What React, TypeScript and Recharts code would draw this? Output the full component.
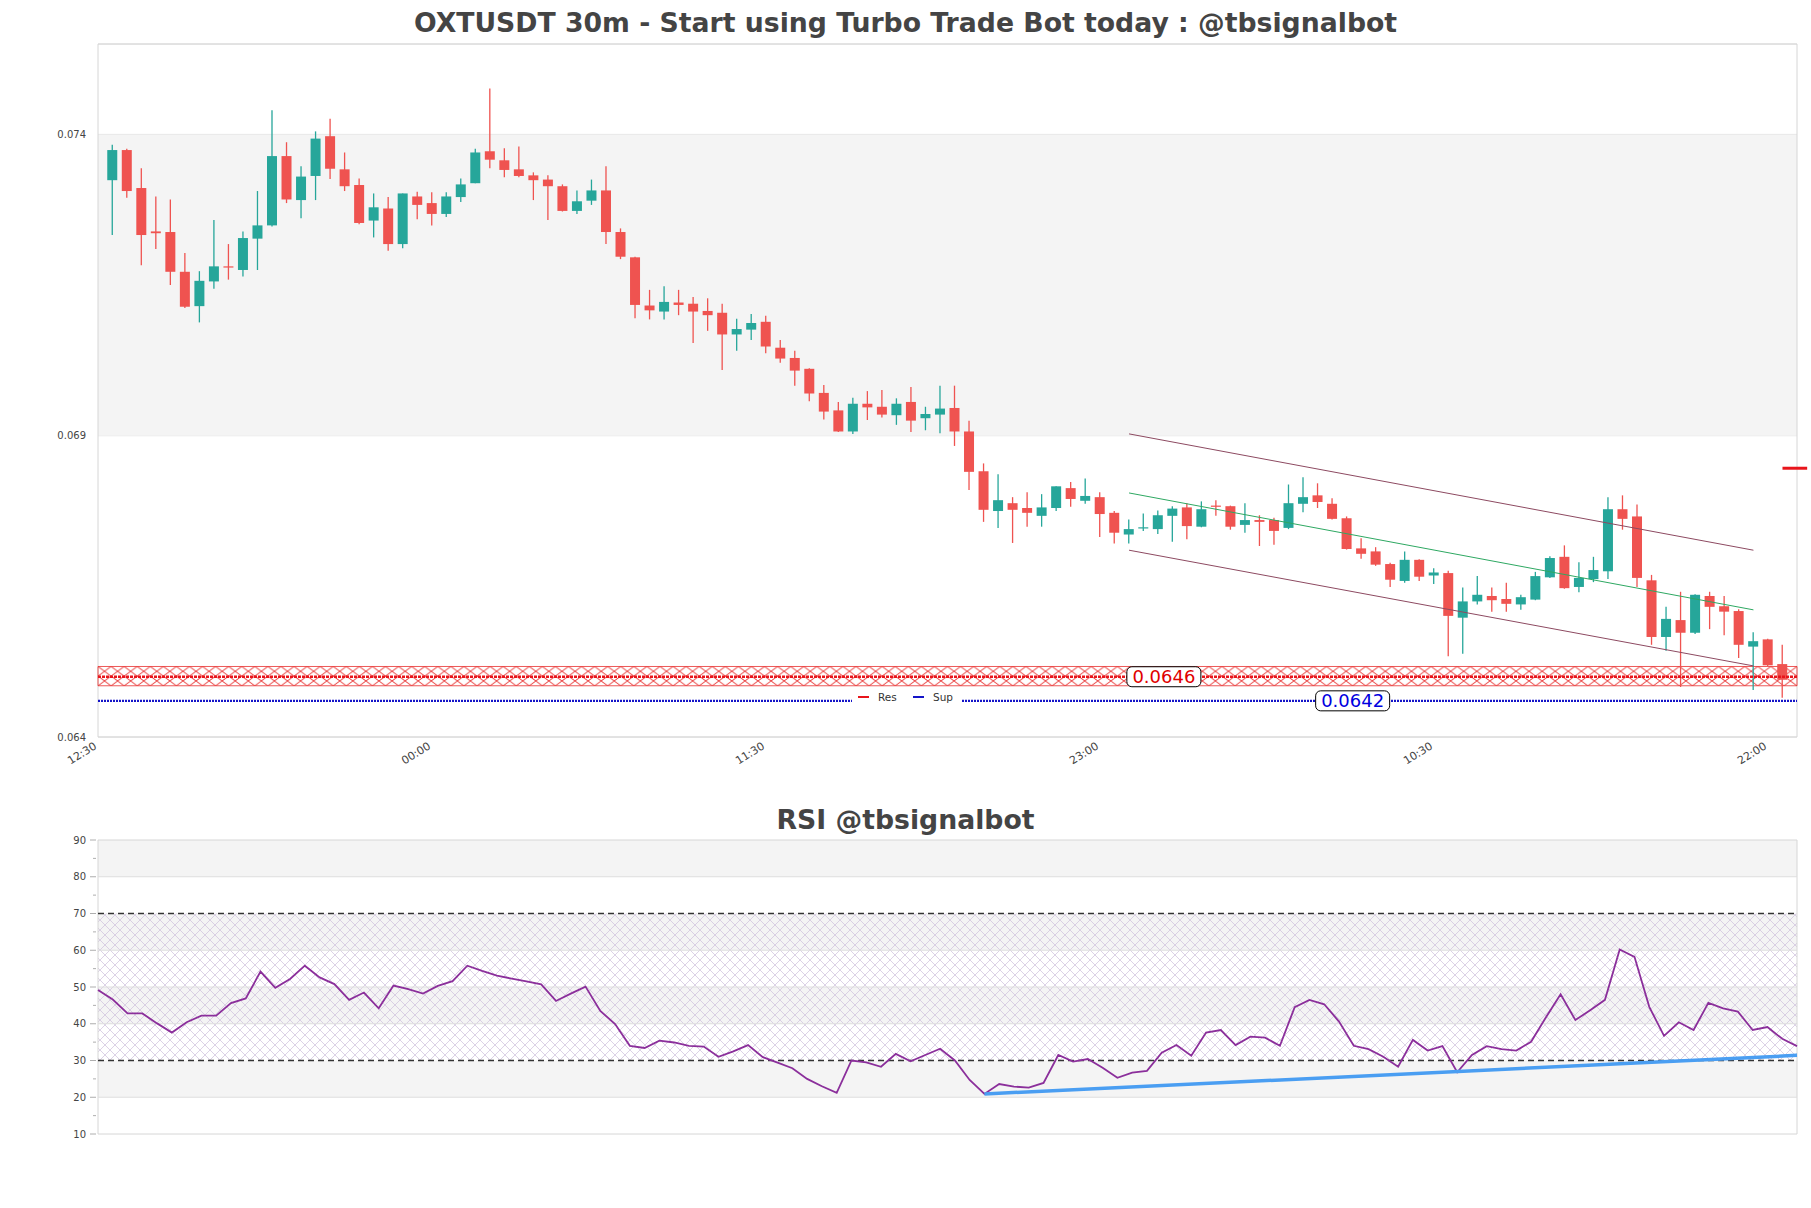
import React from 'react';
import {
  ComposedChart,
  Bar,
  Line,
  XAxis,
  YAxis,
  CartesianGrid,
  ReferenceArea,
  ReferenceLine,
  ReferenceDot,
} from 'recharts';

// ---------- DATA ----------
const timeTickIndex = [0, 23, 46, 69, 92, 115];
const timeLabels = ['12:30', '00:00', '11:30', '23:00', '10:30', '22:00'];

const opens = [
  0.07284, 0.07334, 0.07271, 0.07199, 0.07198, 0.07132, 0.07075, 0.07116, 0.07141, 0.07135,
  0.07187, 0.07209, 0.07324, 0.07251, 0.07291, 0.07357, 0.07302, 0.07276, 0.07217, 0.07237,
  0.07178, 0.07257, 0.07246, 0.07228, 0.07256, 0.07279, 0.07332, 0.07317, 0.07302, 0.07292,
  0.07285, 0.07274, 0.07233, 0.0725, 0.07267, 0.07198, 0.07156, 0.07076, 0.07066, 0.07081,
  0.07079, 0.07067, 0.07064, 0.07028, 0.07036, 0.07049, 0.07006, 0.06989, 0.06971, 0.06931,
  0.06902, 0.06867, 0.06913, 0.06908, 0.06894, 0.06916, 0.06889, 0.06895, 0.06906, 0.06867,
  0.06801, 0.06735, 0.06748, 0.0674, 0.06727, 0.0674, 0.06773, 0.06752, 0.06758, 0.06732,
  0.06696, 0.06707, 0.06705, 0.06727, 0.06741, 0.06709, 0.06744, 0.06743, 0.06712, 0.0672,
  0.0672, 0.06707, 0.06747, 0.06761, 0.06747, 0.06723, 0.06673, 0.06668, 0.06647, 0.06619,
  0.06654, 0.06628, 0.06632, 0.06558, 0.06585, 0.06594, 0.06589, 0.0658, 0.06588, 0.06625,
  0.06659, 0.06609, 0.06622, 0.06635, 0.06738, 0.06726, 0.0662, 0.06526, 0.06554, 0.06533,
  0.06594, 0.06577, 0.06569, 0.0651, 0.06522, 0.06481,
];
const highs = [
  0.07343, 0.07336, 0.07304, 0.07257, 0.07252, 0.07163, 0.07133, 0.07218, 0.07178, 0.07199,
  0.07266, 0.074, 0.07347, 0.07307, 0.07365, 0.07386, 0.0733, 0.07287, 0.07262, 0.07256,
  0.07262, 0.07265, 0.07264, 0.07264, 0.07287, 0.07336, 0.07436, 0.07337, 0.0734, 0.07297,
  0.07292, 0.07277, 0.07267, 0.07285, 0.07307, 0.07204, 0.07157, 0.07102, 0.07108, 0.07102,
  0.0709, 0.07088, 0.07079, 0.07054, 0.07062, 0.07059, 0.07019, 0.07001, 0.06972, 0.06944,
  0.06916, 0.06923, 0.06934, 0.06936, 0.06922, 0.06941, 0.06908, 0.06943, 0.06943, 0.06885,
  0.06814, 0.06796, 0.06758, 0.06766, 0.06763, 0.06776, 0.06783, 0.06789, 0.06766, 0.06735,
  0.06721, 0.06731, 0.06736, 0.06743, 0.06748, 0.06751, 0.06753, 0.06744, 0.06748, 0.06728,
  0.06724, 0.06779, 0.06791, 0.06781, 0.06756, 0.06726, 0.0669, 0.06675, 0.06649, 0.06668,
  0.06655, 0.0664, 0.06636, 0.06608, 0.06627, 0.06608, 0.06616, 0.06596, 0.06634, 0.0666,
  0.06678, 0.0665, 0.06659, 0.06758, 0.06761, 0.06746, 0.06629, 0.06576, 0.06601, 0.06597,
  0.06601, 0.06594, 0.06572, 0.06534, 0.06523, 0.06513,
];
const lows = [
  0.07193, 0.07255, 0.07143, 0.0717, 0.0711, 0.07072, 0.07048, 0.07104, 0.07119, 0.07124,
  0.07135, 0.07207, 0.07246, 0.07221, 0.07251, 0.07286, 0.07266, 0.07211, 0.07189, 0.07167,
  0.07171, 0.07219, 0.07209, 0.07223, 0.07248, 0.07279, 0.07304, 0.07289, 0.07289, 0.07251,
  0.07218, 0.07232, 0.07228, 0.07243, 0.07178, 0.07153, 0.07055, 0.07053, 0.07053, 0.0706,
  0.07014, 0.07034, 0.06969, 0.07001, 0.07019, 0.06997, 0.06981, 0.06943, 0.06917, 0.06887,
  0.06866, 0.06863, 0.06886, 0.0689, 0.06878, 0.06866, 0.06869, 0.06864, 0.06843, 0.0677,
  0.06717, 0.06707, 0.06682, 0.06709, 0.06709, 0.06735, 0.06742, 0.06747, 0.06692, 0.06681,
  0.06681, 0.06702, 0.06697, 0.06684, 0.06688, 0.06708, 0.06727, 0.06704, 0.06699, 0.06677,
  0.06679, 0.06705, 0.06733, 0.0674, 0.06721, 0.06671, 0.06656, 0.06644, 0.06609, 0.06616,
  0.06619, 0.06614, 0.06494, 0.06498, 0.0658, 0.06568, 0.06568, 0.06571, 0.06587, 0.06624,
  0.06606, 0.066, 0.06617, 0.06622, 0.06704, 0.06609, 0.06513, 0.06503, 0.06443, 0.06531,
  0.06539, 0.06529, 0.06491, 0.06438, 0.06478, 0.06425,
];
const closes = [
  0.07334, 0.07266, 0.07193, 0.07196, 0.07132, 0.07074, 0.07117, 0.07141, 0.0714, 0.07188,
  0.07209, 0.07324, 0.07252, 0.0729, 0.07353, 0.07303, 0.07274, 0.07213, 0.07239, 0.07178,
  0.07262, 0.07243, 0.07228, 0.07257, 0.07277, 0.0733, 0.07318, 0.07301, 0.07291, 0.07284,
  0.07274, 0.07233, 0.07249, 0.07267, 0.07198, 0.07157, 0.07077, 0.07068, 0.07082, 0.07077,
  0.07066, 0.0706, 0.07028, 0.07037, 0.07047, 0.07008, 0.06988, 0.06968, 0.0693, 0.069,
  0.06867, 0.06913, 0.06907, 0.06895, 0.06913, 0.06885, 0.06896, 0.06905, 0.06867, 0.068,
  0.06737, 0.06753, 0.06737, 0.06732, 0.06741, 0.06776, 0.06755, 0.0676, 0.0673, 0.06699,
  0.06705, 0.06708, 0.06728, 0.06739, 0.0671, 0.06738, 0.06743, 0.06709, 0.0672, 0.06717,
  0.06702, 0.06748, 0.06758, 0.0675, 0.06722, 0.06672, 0.06664, 0.06646, 0.06621, 0.06654,
  0.06626, 0.06633, 0.06561, 0.06585, 0.06596, 0.06587, 0.06581, 0.06592, 0.06627, 0.06657,
  0.06607, 0.06624, 0.06637, 0.06738, 0.06722, 0.06624, 0.06526, 0.06556, 0.06533, 0.06596,
  0.06576, 0.06568, 0.06513, 0.06519, 0.06479, 0.06455,
];

const rsiValues = [
  49.2, 46.6, 42.8, 42.8, 40.1, 37.6, 40.4, 42.2, 42.2, 45.6,
  46.9, 54.2, 49.8, 52.2, 55.8, 52.6, 50.8, 46.5, 48.5, 44.2,
  50.4, 49.4, 48.2, 50.3, 51.6, 55.8, 54.4, 53.1, 52.3, 51.5,
  50.7, 46.2, 48.2, 50.1, 43.5, 39.9, 34.0, 33.4, 35.4, 34.9,
  34.0, 33.8, 31.0, 32.5, 34.2, 30.9, 29.4, 27.9, 25.0, 23.0,
  21.2, 30.0, 29.5, 28.3, 31.8, 29.8, 31.5, 33.2, 30.0, 24.7,
  20.9, 23.6, 22.9, 22.6, 23.9, 31.5, 29.7, 30.4, 28.0, 25.3,
  26.7, 27.2, 32.1, 34.2, 31.3, 37.6, 38.3, 34.2, 36.5, 36.2,
  34.0, 44.5, 46.5, 45.3, 40.6, 34.0, 33.1, 31.0, 28.3, 35.6,
  32.7, 33.9, 26.8, 31.5, 33.9, 33.1, 32.7, 35.1, 41.7, 48.0,
  41.0, 43.7, 46.5, 60.2, 58.2, 44.6, 36.7, 40.4, 38.3, 45.7,
  44.2, 43.3, 38.3, 39.1, 35.9, 33.9,
];

const priceTicks = [0.0636, 0.0686, 0.0736];
const priceTickLabels = ['0.064', '0.069', '0.074'];
const priceDomain = [0.0636, 0.0751];
const shadedBand = [0.0686, 0.0736];

const resLevel = 0.0646;
const resBand = [0.06445, 0.06477];
const supLevel = 0.0642;
const resLabel = '0.0646';
const supLabel = '0.0642';
const resLabelAt = 73.4;
const supLabelAt = 86.4;

const channelX = [71, 114];
const channelUpper = [0.06863, 0.0667];
const channelMid = [0.06765, 0.06571];
const channelLower = [0.0667, 0.06478];
const targetLevel = 0.06806;
const targetX = [116, 117.7];

const rsiTicks = [10, 15, 20, 25, 30, 35, 40, 45, 50, 55, 60, 65, 70, 75, 80, 85, 90];
const rsiShaded = [[80, 90], [60, 70], [40, 50], [20, 30]];
const rsiGrid = [20, 40, 50, 60, 80];
const rsiBounds = [30, 70];
const rsiTrend = [[60, 20.9], [115, 31.4]];

const mainTitle = 'OXTUSDT 30m - Start using Turbo Trade Bot today : @tbsignalbot';
const rsiTitle = 'RSI @tbsignalbot';

// ---------- BUILT DATA ----------
const candleData = opens.map((o, i) => ({
  idx: i + 1,
  open: o,
  high: highs[i],
  low: lows[i],
  close: closes[i],
  range: [lows[i], highs[i]],
}));
const rsiData = rsiValues.map((v, i) => ({ idx: i, rsi: v }));

const UP = '#26a69a';
const DOWN = '#ef5350';
const FONT = '"DejaVu Sans", sans-serif';

const Candle = (props: any) => {
  const { x, y, width, height, payload } = props;
  if (!payload) return null;
  const { open, close, high, low } = payload;
  const color = close >= open ? UP : DOWN;
  const ratio = high > low ? height / (high - low) : 0;
  const yOf = (v: number) => y + (high - v) * ratio;
  const top = yOf(Math.max(open, close));
  const bot = yOf(Math.min(open, close));
  const cx = x + width / 2;
  return (
    <g>
      <line x1={cx} x2={cx} y1={y} y2={y + height} stroke={color} strokeWidth={1.3} />
      <rect x={x} y={top} width={width} height={Math.max(bot - top, 1.2)} fill={color} />
    </g>
  );
};

const PriceYTick = (props: any) => {
  const { x, y, payload } = props;
  const i = priceTicks.indexOf(payload.value);
  return (
    <text x={x - 10} y={y} dy="0.35em" textAnchor="end" fontSize={10} fill="#444" fontFamily={FONT}>
      {i >= 0 ? priceTickLabels[i] : ''}
    </text>
  );
};

const TimeTick = (props: any) => {
  const { x, y, payload } = props;
  const i = timeTickIndex.indexOf(payload.value);
  return (
    <g transform={`translate(${x - 5},${y + 2})`}>
      <text x={0} y={0} dy="0.75em" textAnchor="end" transform="rotate(-32)" fontSize={11} fill="#444" fontFamily={FONT}>
        {i >= 0 ? timeLabels[i] : ''}
      </text>
    </g>
  );
};

const RsiYTick = (props: any) => {
  const { x, y, payload } = props;
  const major = payload.value % 10 === 0;
  return (
    <g>
      <line x1={x - (major ? 6 : 3)} x2={x} y1={y} y2={y} stroke="#999" strokeWidth={0.8} />
      {major && (
        <text x={x - 10} y={y} dy="0.35em" textAnchor="end" fontSize={10} fill="#444" fontFamily={FONT}>
          {payload.value}
        </text>
      )}
    </g>
  );
};

const makeTag = (text: string, color: string) => (props: any) => {
  const { cx, cy } = props;
  return (
    <g>
      <rect x={cx - 37} y={cy - 10} width={74} height={20} rx={5} ry={5} fill="#fff" stroke="#000" strokeWidth={1} />
      <text x={cx} y={cy} dy="0.36em" textAnchor="middle" fontSize={18} fill={color} fontFamily={FONT}>
        {text}
      </text>
    </g>
  );
};

export default function App() {
  return (
    <div style={{ position: 'absolute', left: 0, top: 0, width: 1811, height: 1208, background: '#fff', overflow: 'hidden' }}>
      <svg width={0} height={0} style={{ position: 'absolute' }}>
        <defs>
          <pattern id="resHatch" patternUnits="objectBoundingBox" width={1 / 130} height={0.5} viewBox="0 0 13 11" preserveAspectRatio="none">
            <path d="M0,0 L13,11 M13,0 L0,11" stroke="#e8302f" strokeWidth={1} fill="none" />
          </pattern>
          <pattern id="rsiHatch" patternUnits="userSpaceOnUse" width={10} height={10}>
            <path d="M0,0 L10,10 M10,0 L0,10" stroke="#cdbfdb" strokeWidth={0.7} fill="none" />
          </pattern>
        </defs>
      </svg>

      <div style={{ position: 'absolute', left: 0, top: 8, width: 1811, textAlign: 'center', fontFamily: FONT, fontWeight: 'bold', fontSize: 26.7, lineHeight: '30px', color: '#444' }}>
        {mainTitle}
      </div>

      <div style={{ position: 'absolute', left: 0, top: 0 }}>
        <ComposedChart width={1811} height={800} data={candleData} margin={{ top: 44, right: 14, bottom: 0, left: 0 }}>
          <ReferenceArea y1={shadedBand[0]} y2={shadedBand[1]} x1={0} x2={117} fill="#f4f4f4" fillOpacity={1} stroke="none" />
          <CartesianGrid horizontal vertical={false} stroke="#dedede" />
          <XAxis
            type="number"
            dataKey="idx"
            domain={[0, 117]}
            allowDataOverflow
            ticks={timeTickIndex}
            tick={<TimeTick />}
            tickLine={false}
            tickSize={0}
            axisLine={false}
            height={63}
            interval={0}
          />
          <YAxis
            type="number"
            domain={priceDomain}
            allowDataOverflow
            ticks={priceTicks}
            tick={<PriceYTick />}
            tickLine={false}
            tickSize={0}
            axisLine={false}
            width={98}
            interval={0}
          />
          <ReferenceArea x1={0} x2={117} y1={priceDomain[0]} y2={priceDomain[1]} fill="none" stroke="#d6d6d6" strokeWidth={1} />
          <ReferenceArea x1={0} x2={117} y1={resBand[0]} y2={resBand[1]} fill="url(#resHatch)" fillOpacity={1} stroke="#e8302f" strokeWidth={0.8} />
          <ReferenceLine y={resLevel} stroke="#e8151b" strokeWidth={2.4} strokeDasharray="3 1" />
          <ReferenceLine y={supLevel} stroke="#1414c8" strokeWidth={2.4} strokeDasharray="2 1" />
          <ReferenceLine segment={[{ x: channelX[0], y: channelUpper[0] }, { x: channelX[1], y: channelUpper[1] }]} stroke="#8d4a61" strokeWidth={1} />
          <ReferenceLine segment={[{ x: channelX[0], y: channelMid[0] }, { x: channelX[1], y: channelMid[1] }]} stroke="#2ea862" strokeWidth={1} />
          <ReferenceLine segment={[{ x: channelX[0], y: channelLower[0] }, { x: channelX[1], y: channelLower[1] }]} stroke="#8d4a61" strokeWidth={1} />
          <Bar dataKey="range" barSize={10} shape={<Candle />} isAnimationActive={false} />
          <ReferenceLine segment={[{ x: targetX[0], y: targetLevel }, { x: targetX[1], y: targetLevel }]} stroke="#e8151b" strokeWidth={3} ifOverflow="visible" />
          <ReferenceDot x={resLabelAt} y={resLevel} shape={makeTag(resLabel, '#e00000')} />
          <ReferenceDot x={supLabelAt} y={supLevel} shape={makeTag(supLabel, '#0000e0')} />
        </ComposedChart>
      </div>

      <div style={{ position: 'absolute', left: 852, top: 688, width: 110, height: 18, background: '#fff', fontFamily: FONT, fontSize: 10.5, color: '#333' }}>
        <span style={{ position: 'absolute', left: 6, top: 8, width: 11, height: 2, background: '#e8151b' }} />
        <span style={{ position: 'absolute', left: 26, top: 2, lineHeight: '14px' }}>Res</span>
        <span style={{ position: 'absolute', left: 61, top: 8, width: 11, height: 2, background: '#1414c8' }} />
        <span style={{ position: 'absolute', left: 81, top: 2, lineHeight: '14px' }}>Sup</span>
      </div>

      <div style={{ position: 'absolute', left: 0, top: 805, width: 1811, textAlign: 'center', fontFamily: FONT, fontWeight: 'bold', fontSize: 26.7, lineHeight: '30px', color: '#444' }}>
        {rsiTitle}
      </div>

      <div style={{ position: 'absolute', left: 0, top: 800 }}>
        <ComposedChart width={1811} height={340} data={rsiData} margin={{ top: 40, right: 14, bottom: 6, left: 0 }}>
          {rsiShaded.map((b, i) => (
            <ReferenceArea key={'s' + i} x1={0} x2={115} y1={b[0]} y2={b[1]} fill="#f4f4f4" fillOpacity={1} stroke="none" />
          ))}
          <ReferenceArea x1={0} x2={115} y1={rsiBounds[0]} y2={rsiBounds[1]} fill="url(#rsiHatch)" fillOpacity={1} stroke="none" />
          {rsiGrid.map((v) => (
            <ReferenceLine key={'g' + v} y={v} stroke="#dedede" strokeWidth={1} />
          ))}
          <XAxis type="number" dataKey="idx" domain={[0, 115]} hide />
          <YAxis
            type="number"
            domain={[10, 90]}
            ticks={rsiTicks}
            tick={<RsiYTick />}
            tickLine={false}
            tickSize={0}
            axisLine={false}
            width={98}
            interval={0}
          />
          <ReferenceArea x1={0} x2={115} y1={10} y2={90} fill="none" stroke="#d6d6d6" strokeWidth={1} />
          {rsiBounds.map((v) => (
            <ReferenceLine key={'b' + v} y={v} stroke="#333" strokeWidth={1.3} strokeDasharray="6 4" />
          ))}
          <Line type="linear" dataKey="rsi" stroke="#8b2f9b" strokeWidth={1.8} dot={false} isAnimationActive={false} />
          <ReferenceLine segment={[{ x: rsiTrend[0][0], y: rsiTrend[0][1] }, { x: rsiTrend[1][0], y: rsiTrend[1][1] }]} stroke="#4a9ef2" strokeWidth={3.5} />
        </ComposedChart>
      </div>
    </div>
  );
}
